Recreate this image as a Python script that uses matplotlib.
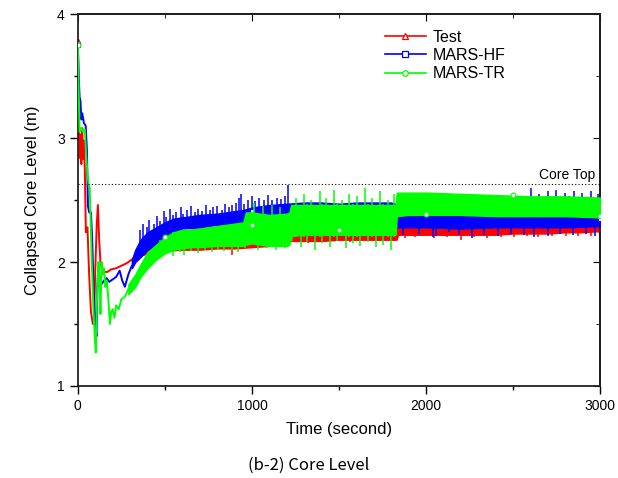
import matplotlib
matplotlib.use("Agg")
import matplotlib.pyplot as plt
from matplotlib.lines import Line2D
from matplotlib.ticker import MultipleLocator

plt.rcParams["font.family"] = ["Liberation Sans", "DejaVu Sans"]

# ---- Test (red): early transient line, noisy band envelope, and single spikes
TEST_EARLY_T = [0, 5, 10, 15, 20, 25, 30, 35, 40, 46, 55, 65, 75, 86, 92, 100, 108,
                115, 122, 130, 140, 155, 170, 190, 220, 250, 280, 310, 340]
TEST_EARLY_V = [3.78, 3.18, 2.84, 3.03, 2.79, 3.08, 2.83, 2.98, 2.74, 2.24, 2.28, 1.89,
                1.6, 1.5, 1.5, 1.94, 2.29, 2.46, 2.19, 1.99, 1.94, 1.92, 1.92, 1.94, 1.95,
                1.97, 1.99, 2.02, 2.05]
TEST_T = [340, 380, 420, 500, 600, 700, 800, 900, 1000, 1100, 1200, 1220, 1300, 1400,
          1500, 1600, 1700, 1800, 1830, 1840, 1900, 2000, 2100, 2200, 2300, 2400, 2500,
          2600, 2700, 2800, 2900, 3000]
TEST_LO = [2.05, 2.06, 2.08, 2.09, 2.1, 2.1, 2.11, 2.11, 2.12, 2.13, 2.14, 2.17, 2.17,
           2.17, 2.18, 2.18, 2.18, 2.18, 2.18, 2.22, 2.22, 2.22, 2.22, 2.22, 2.22, 2.22,
           2.23, 2.23, 2.23, 2.24, 2.24, 2.25]
TEST_HI = [2.08, 2.12, 2.16, 2.2, 2.25, 2.27, 2.28, 2.3, 2.3, 2.3, 2.32, 2.34, 2.35,
           2.35, 2.35, 2.35, 2.36, 2.36, 2.36, 2.3, 2.3, 2.3, 2.31, 2.31, 2.31, 2.31,
           2.32, 2.32, 2.32, 2.32, 2.33, 2.33]
TEST_SPK_T = [883, 1147, 1322, 1562, 1878, 1934, 2047, 2118, 2203, 2276, 2353, 2428,
              2507, 2583, 2646, 2722, 2803, 2871, 2948]
TEST_SPK_LO = [2.06, 2.12, 2.15, 2.16, 2.19, 2.2, 2.19, 2.2, 2.18, 2.2, 2.19, 2.2, 2.2,
               2.21, 2.2, 2.21, 2.21, 2.21, 2.21]
TEST_SPK_HI = [2.2, 2.25, 2.25, 2.25, 2.26, 2.26, 2.26, 2.26, 2.26, 2.26, 2.26, 2.26,
               2.27, 2.27, 2.27, 2.27, 2.28, 2.28, 2.28]
TEST_MARK_T = [0, 3000]
TEST_MARK_V = [3.78, 2.27]

# ---- MARS-HF (blue)
HF_EARLY_T = [0, 5, 10, 15, 20, 25, 35, 45, 52, 58, 65, 75, 82, 90, 100, 107, 112, 118,
              125, 135, 150, 165, 180, 200, 220, 240, 255, 270, 290, 310]
HF_EARLY_V = [3.75, 3.5, 3.33, 3.3, 3.15, 3.2, 3.12, 3.1, 2.9, 2.45, 2.4, 2.4, 2.2, 1.8,
              1.5, 1.4, 1.8, 1.98, 1.8, 1.82, 1.85, 1.87, 1.84, 1.86, 1.88, 1.93, 1.85,
              1.8, 1.9, 1.97]
HF_T = [310, 330, 360, 400, 450, 500, 550, 600, 700, 800, 900, 950, 1000, 1100, 1200,
        1300, 1400, 1500, 1600, 1700, 1800, 1825, 1835, 1900, 2000, 2200, 2400, 2600,
        2800, 3000]
HF_LO = [1.95, 2.0, 2.04, 2.1, 2.13, 2.2, 2.24, 2.27, 2.28, 2.3, 2.31, 2.31, 2.32, 2.33,
         2.33, 2.32, 2.32, 2.32, 2.32, 2.32, 2.31, 2.3, 2.28, 2.28, 2.28, 2.27, 2.28,
         2.28, 2.28, 2.29]
HF_HI = [2.02, 2.1, 2.18, 2.24, 2.28, 2.32, 2.35, 2.36, 2.38, 2.39, 2.41, 2.42, 2.44,
         2.46, 2.47, 2.48, 2.48, 2.47, 2.48, 2.48, 2.48, 2.47, 2.37, 2.37, 2.37, 2.37,
         2.37, 2.38, 2.38, 2.38]
HF_SPK_T = [355, 372, 398, 411, 437, 452, 470, 493, 508, 531, 549, 566, 590, 603, 628,
            652, 671, 690, 714, 735, 758, 777, 801, 826, 845, 869, 884, 906, 928, 936,
            957, 978, 1002, 1019, 1043, 1071, 1094, 1117, 1142, 1166, 1188, 1209, 1215,
            1868, 1957, 2041, 2056, 2133, 2187, 2262, 2334, 2411, 2488, 2563, 2619, 2698,
            2771, 2845, 2917, 2968,
            2505, 2538, 2571, 2602, 2628, 2651, 2677, 2703, 2721, 2749, 2768, 2796, 2823,
            2851, 2874, 2899, 2921, 2948, 2972, 2990]
HF_SPK_LO = [2.1, 2.1, 2.1, 2.1, 2.1, 2.2, 2.2, 2.2, 2.2, 2.2, 2.2, 2.2, 2.3, 2.3, 2.3,
             2.3, 2.3, 2.3, 2.3, 2.3, 2.3, 2.3, 2.3, 2.3, 2.3, 2.3, 2.3, 2.3, 2.3, 2.3,
             2.35, 2.35, 2.35, 2.35, 2.35, 2.35, 2.35, 2.35, 2.35, 2.35, 2.35, 2.35, 2.2,
             2.22, 2.23, 2.2, 2.21, 2.24, 2.22, 2.19, 2.22, 2.21, 2.23, 2.22, 2.2, 2.21,
             2.23, 2.22, 2.23, 2.21,
             2.4, 2.4, 2.4, 2.4, 2.4, 2.4, 2.4, 2.4, 2.4, 2.4, 2.4, 2.4, 2.4, 2.4, 2.4,
             2.4, 2.4, 2.4, 2.4, 2.4]
HF_SPK_HI = [2.26, 2.31, 2.28, 2.34, 2.31, 2.37, 2.33, 2.41, 2.36, 2.43, 2.38, 2.4,
             2.44, 2.39, 2.42, 2.45, 2.4, 2.43, 2.41, 2.46, 2.42, 2.44, 2.45, 2.42, 2.47,
             2.44, 2.46, 2.48, 2.52, 2.55, 2.47, 2.5, 2.53, 2.49, 2.52, 2.5, 2.54, 2.5,
             2.52, 2.51, 2.53, 2.62, 2.45,
             2.3, 2.3, 2.3, 2.3, 2.3, 2.3, 2.3, 2.3, 2.3, 2.3, 2.3, 2.3, 2.3, 2.3, 2.3,
             2.3, 2.3,
             2.56, 2.48, 2.5, 2.6, 2.5, 2.55, 2.48, 2.57, 2.52, 2.58, 2.49, 2.56, 2.53,
             2.57, 2.5, 2.56, 2.52, 2.57, 2.51, 2.55]
HF_MARK_T = [0, 1000, 3000]
HF_MARK_V = [3.75, 2.41, 2.35]

# ---- MARS-TR (green)
TR_EARLY_T = [0, 5, 10, 20, 30, 40, 48, 55, 62, 68, 72, 80, 90, 97, 103, 110, 118, 124,
              130, 136, 142, 150, 158, 166, 175, 184, 192, 200, 210, 220, 235, 250, 270,
              290]
TR_EARLY_V = [3.75, 3.35, 3.05, 3.08, 3.05, 3.07, 2.85, 2.72, 2.62, 2.6, 2.4, 2.0, 1.6,
              1.4, 1.27, 1.7, 2.0, 1.85, 1.58, 2.0, 1.9, 1.95, 1.8, 1.85, 1.7, 1.5, 1.6,
              1.62, 1.55, 1.65, 1.62, 1.7, 1.72, 1.78]
TR_T = [290, 330, 360, 400, 450, 500, 550, 600, 650, 700, 800, 900, 950, 965, 1000,
        1100, 1200, 1215, 1225, 1300, 1400, 1500, 1600, 1700, 1800, 1825, 1832, 1900,
        2000, 2200, 2400, 2600, 2800, 3000]
TR_LO = [1.74, 1.8, 1.88, 1.95, 2.02, 2.07, 2.1, 2.11, 2.12, 2.12, 2.13, 2.13, 2.13,
         2.14, 2.15, 2.13, 2.13, 2.14, 2.21, 2.22, 2.22, 2.22, 2.22, 2.22, 2.22, 2.22,
         2.37, 2.38, 2.38, 2.38, 2.37, 2.37, 2.37, 2.36]
TR_HI = [1.82, 1.9, 1.98, 2.08, 2.14, 2.2, 2.24, 2.26, 2.26, 2.27, 2.29, 2.31, 2.32,
         2.4, 2.4, 2.38, 2.39, 2.4, 2.46, 2.46, 2.46, 2.46, 2.46, 2.46, 2.46, 2.46, 2.56,
         2.56, 2.56, 2.55, 2.54, 2.53, 2.53, 2.52]
TR_SPK_T = [472, 513, 547, 588, 611, 652, 689, 731, 768, 806, 842, 887, 921, 958, 1012,
            1037, 1066, 1088, 1113, 1141, 1164, 1192,
            1233, 1251, 1279, 1297, 1318, 1342, 1361, 1389, 1404, 1428, 1449, 1473, 1490,
            1516, 1538, 1557, 1581, 1604, 1622, 1649, 1668, 1691, 1713, 1737, 1755, 1779,
            1797, 1814]
TR_SPK_LO = [2.04, 2.07, 2.05, 2.08, 2.06, 2.09, 2.07, 2.1, 2.08, 2.1, 2.09, 2.1, 2.08,
             2.11, 2.3, 2.1, 2.3, 2.11, 2.3, 2.1, 2.3, 2.11,
             2.17, 2.22, 2.12, 2.2, 2.16, 2.22, 2.1, 2.2, 2.15, 2.21, 2.12, 2.2, 2.17,
             2.22, 2.11, 2.2, 2.15, 2.2, 2.13, 2.21, 2.16, 2.2, 2.12, 2.22, 2.14, 2.2,
             2.1, 2.2]
TR_SPK_HI = [2.18, 2.2, 2.24, 2.23, 2.25, 2.24, 2.26, 2.25, 2.28, 2.26, 2.29, 2.3, 2.3,
             2.35, 2.48, 2.35, 2.45, 2.35, 2.46, 2.35, 2.44, 2.36,
             2.45, 2.52, 2.46, 2.55, 2.47, 2.5, 2.46, 2.57, 2.47, 2.52, 2.46, 2.58, 2.47,
             2.5, 2.46, 2.55, 2.47, 2.53, 2.46, 2.6, 2.47, 2.52, 2.46, 2.57, 2.47, 2.5,
             2.46, 2.55]
TR_MARK_T = [0, 500, 1000, 1500, 2000, 2500, 3000]
TR_MARK_V = [3.75, 2.20, 2.30, 2.26, 2.39, 2.54, 2.37]

CORE_TOP = 2.63

SERIES = [
    ("Test", "#ff0000", "^", TEST_EARLY_T, TEST_EARLY_V, TEST_T, TEST_LO, TEST_HI,
     TEST_SPK_T, TEST_SPK_LO, TEST_SPK_HI, TEST_MARK_T, TEST_MARK_V),
    ("MARS-HF", "#0000ff", "s", HF_EARLY_T, HF_EARLY_V, HF_T, HF_LO, HF_HI,
     HF_SPK_T, HF_SPK_LO, HF_SPK_HI, HF_MARK_T, HF_MARK_V),
    ("MARS-TR", "#00ff00", "o", TR_EARLY_T, TR_EARLY_V, TR_T, TR_LO, TR_HI,
     TR_SPK_T, TR_SPK_LO, TR_SPK_HI, TR_MARK_T, TR_MARK_V),
]

fig = plt.figure(figsize=(6.18, 4.78), dpi=100)
ax = fig.add_axes([0.126, 0.1925, 0.845, 0.778])

handles = []
for i, (name, color, marker, et, ev, bt, lo, hi, st, slo, shi, mt, mv) in enumerate(SERIES):
    z = 2 + i
    ax.plot(et, ev, color=color, lw=1.4, zorder=z)
    ax.fill_between(bt, lo, hi, color=color, lw=1.0, edgecolor=color, zorder=z)
    ax.vlines(st, slo, shi, color=color, lw=1.1, zorder=z)
    ax.plot(mt, mv, ls="none", marker=marker, ms=3.5, mfc="white", mec=color,
            mew=0.8, zorder=z)
    handles.append(Line2D([], [], color=color, lw=1.2, marker=marker, ms=4,
                          mfc="white", mec=color, mew=0.9, label=name))

ax.axhline(CORE_TOP, color="black", ls=(0, (1, 2)), lw=0.8, zorder=6)
ax.text(2975, CORE_TOP + 0.015, "Core Top", ha="right", va="bottom", fontsize=10)

ax.set_xlim(0, 3000)
ax.set_ylim(1, 4)
ax.xaxis.set_major_locator(MultipleLocator(1000))
ax.xaxis.set_minor_locator(MultipleLocator(500))
ax.yaxis.set_major_locator(MultipleLocator(1))
ax.yaxis.set_minor_locator(MultipleLocator(0.5))
ax.tick_params(which="both", direction="out", top=False, right=False, labelsize=10,
               width=1.0)
ax.tick_params(which="major", length=6)
ax.tick_params(which="minor", length=3)

for spine in ax.spines.values():
    spine.set_linewidth(1.3)
    spine.set_color("#222222")

# inward ticks on the top and right spines
sec_x = ax.secondary_xaxis("top")
sec_x.xaxis.set_major_locator(MultipleLocator(1000))
sec_x.xaxis.set_minor_locator(MultipleLocator(500))
sec_x.tick_params(which="both", direction="in", labeltop=False)
sec_x.tick_params(which="major", length=5)
sec_x.tick_params(which="minor", length=3)
sec_x.spines["top"].set_linewidth(1.3)
sec_y = ax.secondary_yaxis("right")
sec_y.yaxis.set_major_locator(MultipleLocator(1))
sec_y.yaxis.set_minor_locator(MultipleLocator(0.5))
sec_y.tick_params(which="both", direction="in", labelright=False)
sec_y.tick_params(which="major", length=5)
sec_y.tick_params(which="minor", length=3)
sec_y.spines["right"].set_linewidth(1.3)

ax.set_xlabel("Time (second)", fontsize=12, labelpad=6)
ax.set_ylabel("Collapsed Core Level (m)", fontsize=12, labelpad=12)

ax.legend(handles=handles, loc="upper left", bbox_to_anchor=(0.575, 0.975),
          frameon=False, fontsize=11.5, handlelength=2.6, handletextpad=0.4,
          labelspacing=0.2, borderaxespad=0)

fig.text(0.5, 0.027, "(b-2) Core Level", ha="center", va="center", fontsize=12,
         family=["Noto Sans CJK KR", "DejaVu Sans"])

fig.savefig("out.png", dpi=100)
